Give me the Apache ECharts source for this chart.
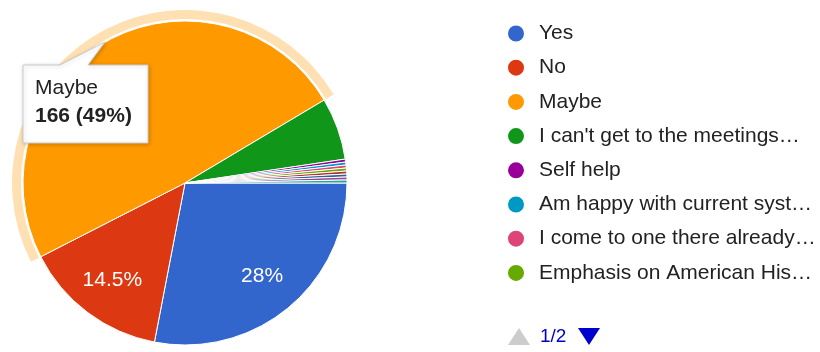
<!DOCTYPE html>
<html>
<head>
<meta charset="utf-8">
<script src="https://cdn.jsdelivr.net/npm/echarts@6/dist/echarts.min.js"></script>
<style>
  html, body { margin: 0; padding: 0; background: #fff; }
  #chart { width: 820px; height: 352px; }
</style>
</head>
<body>
<div id="chart"></div>
<script>
// Survey answers, in slice order (clockwise from 3 o'clock)
const categories = [
  'Yes',
  'No',
  'Maybe',
  "I can't get to the meetings…",
  'Self help',
  'Am happy with current syst…',
  'I come to one there already…',
  'Emphasis on American His…',
  'Other answer 1',
  'Other answer 2',
  'Other answer 3',
  'Other answer 4'
];
const counts = [95, 49, 166, 21, 1, 1, 1, 1, 1, 1, 1, 1];
const sliceColors = [
  '#3366cc', '#dc3912', '#ff9900', '#109618', '#990099', '#0099c6',
  '#dd4477', '#66aa00', '#b82e2e', '#316395', '#994499', '#22aa99'
];
// Legend shows the first page of entries
const legendPageSize = 8;
const legendPageText = '1/2';
// Slices that carry a percentage label, and the slice under the pointer
const labelledSlices = ['Yes', 'No'];
const focusSlice = 'Maybe';

const FONT = 'Arial, "Liberation Sans", sans-serif';
const total = counts.reduce((a, b) => a + b, 0);
const pct = v => {
  const s = (v / total * 100).toFixed(1);
  return (s.endsWith('.0') ? s.slice(0, -2) : s) + '%';
};

const center = [185, 183];
const clear = 'rgba(0,0,0,0)';

const mainData = categories.map((name, i) => ({
  name, value: counts[i], itemStyle: { color: sliceColors[i] }
}));
const ringData = categories.map((name, i) => ({
  name, value: counts[i],
  itemStyle: { color: name === focusSlice ? 'rgba(255,153,0,0.3)' : clear }
}));
const labelData = categories.map((name, i) => ({
  name, value: counts[i],
  itemStyle: { color: clear },
  label: { show: labelledSlices.includes(name) }
}));

const fi = categories.indexOf(focusSlice);
const tipTitle = categories[fi];
const tipValue = counts[fi] + ' (' + pct(counts[fi]) + ')';

const common = {
  type: 'pie',
  center: center,
  startAngle: 0,
  clockwise: true,
  silent: true,
  animation: false,
  legendHoverLink: false,
  emphasis: { disabled: true },
  labelLine: { show: false }
};

const chart = echarts.init(document.getElementById('chart'), null, { renderer: 'canvas' });
chart.setOption({
  backgroundColor: '#ffffff',
  animation: false,
  legend: {
    type: 'plain',
    orient: 'vertical',
    left: 506,
    top: 23,
    padding: 0,
    itemWidth: 36,
    itemHeight: 18,
    itemGap: 13.2,
    icon: 'circle',
    selectedMode: false,
    data: categories.slice(0, legendPageSize),
    textStyle: { fontFamily: FONT, fontSize: 21, color: '#222222', lineHeight: 18 }
  },
  series: [
    Object.assign({}, common, {
      name: 'answers',
      radius: [0, 162],
      itemStyle: { borderColor: '#ffffff', borderWidth: 1 },
      label: { show: false },
      data: mainData
    }),
    Object.assign({}, common, {
      name: 'focus ring',
      radius: [164, 173],
      label: { show: false },
      data: ringData
    }),
    Object.assign({}, common, {
      name: 'slice labels',
      radius: [74, 162],
      label: {
        position: 'inside',
        color: '#ffffff',
        fontFamily: FONT,
        fontSize: 21,
        formatter: p => pct(p.value)
      },
      data: labelData
    })
  ],
  graphic: [
    {
      type: 'polygon',
      z: 100,
      shape: { points: [[23, 65], [60, 65], [105, 42], [88, 65], [148, 65], [148, 143], [23, 143]] },
      style: {
        fill: '#ffffff', stroke: '#cccccc', lineWidth: 1,
        shadowBlur: 4, shadowColor: 'rgba(0,0,0,0.2)', shadowOffsetX: 1, shadowOffsetY: 1
      }
    },
    {
      type: 'text', z: 101, x: 35, y: 88,
      style: { text: tipTitle, font: '21px ' + FONT, fill: '#222222', verticalAlign: 'middle' }
    },
    {
      type: 'text', z: 101, x: 35, y: 116,
      style: { text: tipValue, font: 'bold 21px ' + FONT, fill: '#222222', verticalAlign: 'middle' }
    },
    {
      type: 'polygon', z: 100,
      shape: { points: [[508, 345], [530, 345], [519, 328]] },
      style: { fill: '#cccccc' }
    },
    {
      type: 'text', z: 100, x: 540, y: 337,
      style: { text: legendPageText, font: '19px ' + FONT, fill: '#0000cc', verticalAlign: 'middle' }
    },
    {
      type: 'polygon', z: 100,
      shape: { points: [[578, 328], [600, 328], [589, 345]] },
      style: { fill: '#0000cc' }
    }
  ]
});
</script>
</body>
</html>
